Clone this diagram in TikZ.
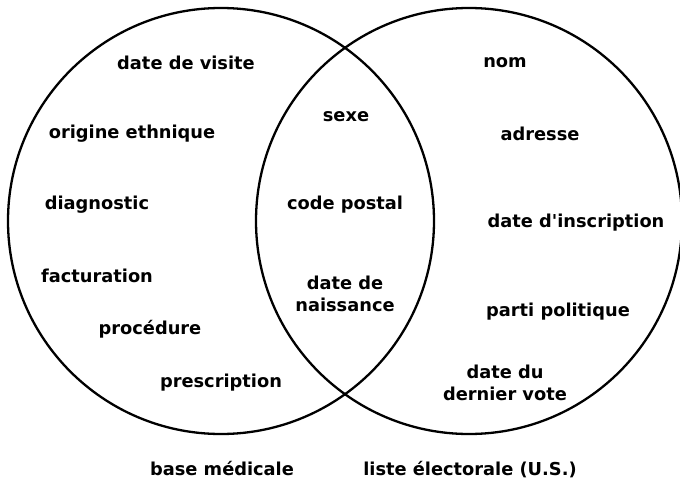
\documentclass[tikz,border=0pt]{standalone}
\usepackage{fontspec}
\setmainfont{DejaVu Sans}
\usepackage{tikz}
\usetikzlibrary{positioning}

\begin{document}
\begin{tikzpicture}[
  x=1pt, y=-1pt,
  font=\bfseries\fontsize{17.8}{22}\selectfont,
  venn/.style={circle, draw=black, line width=2.3pt, minimum size=426pt,
    inner sep=0pt},
  item/.style={align=center, inner sep=1pt},
  caption/.style={item, inner sep=0pt, anchor=base},
]
\useasboundingbox (0,0) rectangle (680,479);

% the two sets
\node[venn] (medical) at (221,221) {};
\node[venn] (electoral) at (469,221) {};

% medical records only
\node[item] (visite) at (186,63) {date de visite};
\node[item] (ethnie) at (132,134) {origine ethnique};
\node[item] (diag) at (97,205) {diagnostic};
\node[item] (factu) at (97,276) {facturation};
\node[item] (proc) at (150,329) {procédure};
\node[item] (presc) at (221,383) {prescription};

% shared attributes
\node[item] (sexe) at (346,117) {sexe};
\node[item] (postal) at (345,205) {code postal};
\node[item] (naiss) at (345,294) {date de\\naissance};

% voter list only
\node[item] (nom) at (505,63) {nom};
\node[item] (adresse) at (540,134) {adresse};
\node[item] (inscr) at (576,223) {date d\textquotesingle inscription};
\node[item] (parti) at (558,312) {parti politique};
\node[item] (vote) at (505,383) {date du\\dernier vote};

% captions
\node[caption] (medlabel) at (222,475) {base médicale};
\node[caption] (elelabel) at (470,475) {liste électorale (U.S.)};
\end{tikzpicture}
\end{document}
